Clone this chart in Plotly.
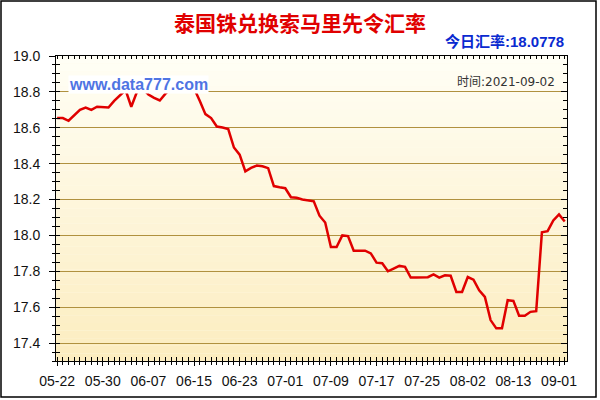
import plotly.graph_objects as go

# ---------------- data ----------------
tick_labels = ["05-22", "05-30", "06-07", "06-15", "06-23", "07-01",
               "07-09", "07-17", "07-25", "08-02", "08-13", "09-01"]
label_step = 8  # one label every 8 daily points

rates = [
    18.654, 18.654, 18.639, 18.667, 18.700, 18.713, 18.700, 18.717, 18.713, 18.713,
    18.750, 18.778, 18.810, 18.717, 18.800, 18.820, 18.785, 18.767, 18.752, 18.790,
    18.820, 18.830, 18.840, 18.830, 18.820, 18.750, 18.676, 18.654, 18.607, 18.601,
    18.593, 18.490, 18.450, 18.357, 18.376, 18.389, 18.385, 18.375, 18.275, 18.268,
    18.263, 18.213, 18.210, 18.200, 18.194, 18.190, 18.110, 18.072, 17.935, 17.935,
    18.000, 17.996, 17.915, 17.915, 17.915, 17.900, 17.848, 17.845, 17.800, 17.815,
    17.830, 17.825, 17.765, 17.765, 17.765, 17.767, 17.783, 17.765, 17.778, 17.775,
    17.685, 17.685, 17.768, 17.753, 17.694, 17.657, 17.528, 17.482, 17.482, 17.639,
    17.635, 17.552, 17.552, 17.574, 17.578, 18.018, 18.024, 18.083, 18.117, 18.0778,
]
y_ticks = [17.4, 17.6, 17.8, 18.0, 18.2, 18.4, 18.6, 18.8, 19.0]

title_text = "泰国铢兑换索马里先令汇率"
today_label = "今日汇率:"
date_text = "时间:2021-09-02"
watermark = "www.data777.com"

# ---------------- layout constants ----------------
W, H = 600, 400
ML, MR, MT, MB = 56, 33, 56, 39
PW, PH = W - ML - MR, H - MT - MB
XR = [-0.2, len(rates) - 0.6]
YR = [17.3, 19.0]


def px_x(p):
    return (p - ML) / PW


def px_y(p):
    return (H - MB - p) / PH


idx = list(range(len(rates)))
tickvals = [i * label_step for i in range(len(tick_labels))]

fig = go.Figure()
fig.add_trace(go.Scatter(
    x=idx, y=rates, mode="lines",
    line=dict(color="#E00000", width=2.5),
    showlegend=False, hoverinfo="skip",
))
# dummy traces for overlay tick axes
fig.add_trace(go.Scatter(x=[None], y=[None], xaxis="x2", yaxis="y2",
                         showlegend=False, hoverinfo="skip"))
fig.add_trace(go.Scatter(x=[None], y=[None], xaxis="x3", yaxis="y3",
                         showlegend=False, hoverinfo="skip"))

tickfont = dict(family="Liberation Sans, Arial, sans-serif", size=14, color="#111111")

# background gradient bands
shapes = []
n = 40
top = (255, 254, 245)
bot = (252, 237, 192)
for k in range(n):
    t = k / (n - 1)
    c = tuple(round(bot[j] + (top[j] - bot[j]) * t) for j in range(3))
    shapes.append(dict(type="rect", xref="paper", yref="paper",
                       x0=0, x1=1, y0=k / n, y1=(k + 1) / n,
                       fillcolor="rgb(%d,%d,%d)" % c, line=dict(width=0),
                       layer="below"))
# outer frame
shapes.append(dict(type="rect", xref="paper", yref="paper",
                   x0=px_x(1), x1=px_x(596), y0=px_y(397), y1=px_y(1),
                   line=dict(color="#000000", width=1.5), fillcolor="rgba(0,0,0,0)",
                   layer="above"))

fig.update_layout(
    width=W, height=H,
    margin=dict(l=ML, r=MR, t=MT, b=MB),
    paper_bgcolor="#FFFFFF",
    plot_bgcolor="#FFFBEA",
    shapes=shapes,
    title=dict(text="<b>%s</b>" % title_text, x=0.5, xanchor="center",
               y=1 - 24 / H, yanchor="middle",
               font=dict(family="Noto Sans CJK SC, sans-serif", size=21, color="#E00000")),
    xaxis=dict(
        range=XR, tickmode="array", tickvals=tickvals, ticktext=tick_labels,
        ticks="outside", ticklen=4, tickcolor="#000", tickwidth=1,
        minor=dict(tick0=0, dtick=1, ticks="outside", ticklen=3, tickcolor="#000"),
        showgrid=False, zeroline=False, showline=True, linecolor="#000", linewidth=1,
        mirror=True, tickfont=tickfont, ticklabelstandoff=3,
    ),
    xaxis2=dict(
        range=XR, overlaying="x", side="top", anchor="y",
        tick0=0, dtick=1, ticks="inside", ticklen=3, tickcolor="#000",
        showticklabels=False, showgrid=False, zeroline=False, showline=False,
    ),
    xaxis3=dict(
        range=XR, overlaying="x", side="bottom", anchor="y",
        tick0=0, dtick=1, ticks="inside", ticklen=4, tickcolor="#000",
        showticklabels=False, showgrid=False, zeroline=False, showline=False,
    ),
    yaxis=dict(
        range=YR, tickmode="array", tickvals=y_ticks,
        ticktext=["%.1f" % v for v in y_ticks],
        ticks="outside", ticklen=6, tickcolor="#000",
        minor=dict(tick0=17.3, dtick=0.05, ticks="outside", ticklen=3, tickcolor="#000"),
        showgrid=True, gridcolor="#B0913F", gridwidth=1,
        zeroline=False, showline=True, linecolor="#000", linewidth=1, mirror=True,
        tickfont=tickfont, ticklabelstandoff=6,
    ),
    yaxis2=dict(
        range=YR, overlaying="y", side="right", anchor="x",
        tickmode="array", tickvals=y_ticks, ticks="inside", ticklen=6, tickcolor="#000",
        minor=dict(tick0=17.3, dtick=0.05, ticks="inside", ticklen=4, tickcolor="#000"),
        showticklabels=False, showgrid=False, zeroline=False, showline=False,
    ),
    yaxis3=dict(
        range=YR, overlaying="y", side="left", anchor="x",
        tick0=17.3, dtick=0.05, ticks="inside", ticklen=4, tickcolor="#000",
        showticklabels=False, showgrid=False, zeroline=False, showline=False,
    ),
    annotations=[
        dict(text="<b>%s%.4f</b>" % (today_label, rates[-1]),
             xref="paper", yref="paper", x=px_x(566), y=px_y(42),
             xanchor="right", yanchor="middle", showarrow=False,
             font=dict(family="Liberation Sans, Noto Sans CJK SC, sans-serif",
                       size=15, color="#0A2AD0")),
        dict(text=date_text, xref="paper", yref="paper", x=px_x(557), y=px_y(82),
             xanchor="right", yanchor="middle", showarrow=False,
             font=dict(family="DejaVu Sans, Noto Sans CJK SC, sans-serif",
                       size=12, color="#333333")),
        dict(text="<b>%s</b>" % watermark, xref="paper", yref="paper",
             x=px_x(138), y=px_y(84.5), xanchor="center", yanchor="middle",
             showarrow=False, bgcolor="#FFFFFF", borderpad=0,
             font=dict(family="Liberation Sans, Arial, sans-serif", size=16, color="#4F74E3")),
    ],
)

fig.write_html("out.html", config={"displayModeBar": False},
               post_script="document.body.style.margin='0';")
